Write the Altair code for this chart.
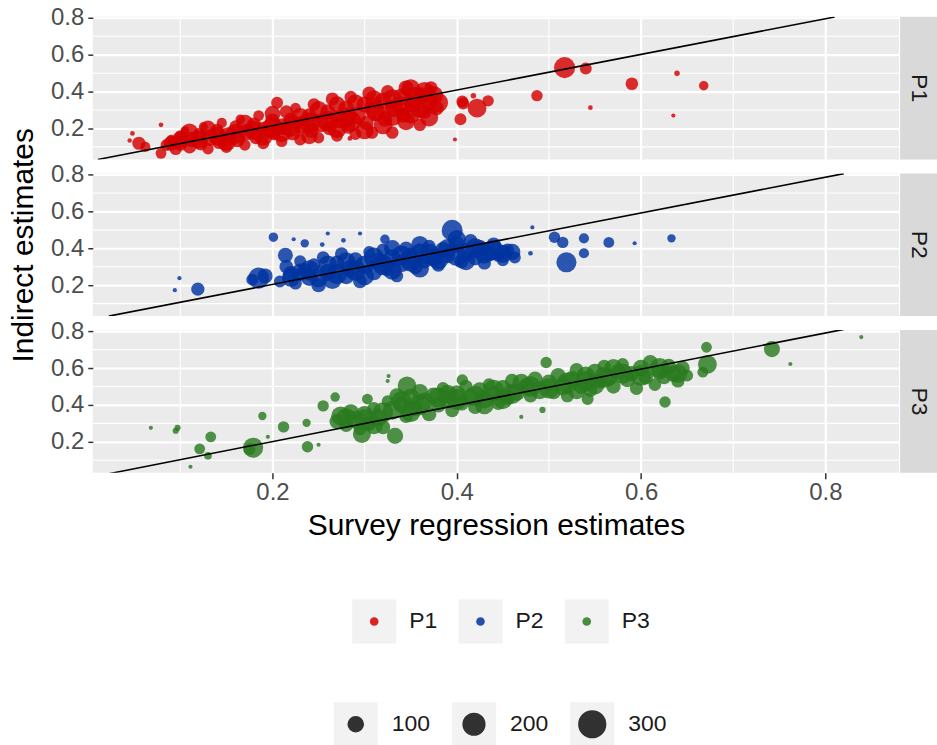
import altair as alt
import pandas as pd

FONT = "Liberation Sans"

panels = ["P1", "P2", "P3"]
colors = ["#D40000", "#0033A0", "#2A7A1E"]

# (survey regression estimate, indirect estimate, size value)
p1_points = [
    (0.048, 0.173, 4), (0.045, 0.135, 3), (0.055, 0.12, 62), (0.062, 0.10, 35), (0.079, 0.22, 4),
    (0.079, 0.065, 40), (0.085, 0.11, 50), (0.09, 0.14, 30),
    (0.095, 0.09, 56), (0.10, 0.16, 45), (0.10, 0.12, 82), (0.105, 0.19, 22), (0.11, 0.10, 62), (0.112, 0.14, 88),
    (0.12, 0.17, 50), (0.122, 0.12, 75), (0.125, 0.21, 27), (0.13, 0.09, 45), (0.132, 0.15, 100),
    (0.14, 0.19, 62), (0.142, 0.13, 82), (0.145, 0.23, 35), (0.15, 0.10, 50), (0.152, 0.16, 110),
    (0.16, 0.21, 56), (0.162, 0.14, 88), (0.165, 0.25, 30), (0.17, 0.11, 45), (0.172, 0.18, 100),
    (0.18, 0.22, 75), (0.182, 0.15, 62), (0.185, 0.27, 40), (0.19, 0.12, 50), (0.192, 0.19, 120),
    (0.20, 0.24, 82), (0.202, 0.17, 56), (0.205, 0.34, 50), (0.21, 0.13, 45), (0.212, 0.21, 110), (0.215, 0.29, 62),
    (0.22, 0.25, 68), (0.222, 0.18, 95), (0.225, 0.31, 40), (0.23, 0.14, 50), (0.232, 0.22, 120),
    (0.24, 0.27, 75), (0.242, 0.19, 82), (0.245, 0.33, 56), (0.25, 0.15, 45), (0.252, 0.23, 130),
    (0.26, 0.29, 82), (0.262, 0.20, 68), (0.265, 0.36, 62), (0.27, 0.16, 50), (0.272, 0.25, 120),
    (0.28, 0.31, 88), (0.282, 0.21, 75), (0.284, 0.146, 4), (0.285, 0.37, 56), (0.29, 0.17, 50), (0.292, 0.27, 110),
    (0.30, 0.33, 95), (0.302, 0.23, 75), (0.305, 0.39, 68), (0.308, 0.178, 56), (0.31, 0.255, 7), (0.312, 0.29, 130),
    (0.32, 0.35, 100), (0.322, 0.25, 82), (0.325, 0.40, 62), (0.33, 0.178, 56), (0.332, 0.31, 120),
    (0.34, 0.37, 110), (0.342, 0.27, 75), (0.345, 0.42, 82), (0.35, 0.416, 130), (0.352, 0.33, 100),
    (0.36, 0.22, 56), (0.362, 0.38, 95), (0.365, 0.29, 68), (0.37, 0.35, 120), (0.372, 0.42, 62), (0.378, 0.31, 75),
    (0.11, 0.18, 110), (0.13, 0.20, 90), (0.15, 0.13, 140), (0.17, 0.23, 100), (0.19, 0.16, 140),
    (0.20, 0.28, 90), (0.21, 0.18, 150), (0.23, 0.26, 130), (0.24, 0.16, 100), (0.25, 0.30, 120),
    (0.26, 0.24, 160), (0.27, 0.20, 140), (0.28, 0.26, 150), (0.29, 0.34, 100), (0.30, 0.19, 120),
    (0.31, 0.36, 110), (0.32, 0.22, 130), (0.33, 0.27, 160), (0.34, 0.32, 150), (0.345, 0.24, 120),
    (0.355, 0.37, 160), (0.36, 0.31, 150), (0.365, 0.40, 140), (0.37, 0.26, 120), (0.375, 0.38, 130),
    (0.38, 0.34, 140), (0.35, 0.28, 140), (0.33, 0.36, 140), (0.31, 0.31, 150), (0.27, 0.33, 100),
    (0.22, 0.21, 150), (0.18, 0.19, 140), (0.16, 0.17, 150), (0.14, 0.16, 130), (0.12, 0.14, 120),
    (0.10, 0.14, 100), (0.09, 0.12, 80), (0.20, 0.205, 160), (0.24, 0.23, 160), (0.285, 0.24, 160),
    (0.398, 0.14, 2), (0.404, 0.25, 50), (0.406, 0.346, 50), (0.407, 0.335, 50), (0.418, 0.378, 7),
    (0.422, 0.31, 130), (0.434, 0.35, 45),
    (0.487, 0.378, 45), (0.517, 0.53, 165), (0.54, 0.525, 50), (0.545, 0.313, 4), (0.59, 0.443, 56),
    (0.639, 0.50, 7), (0.635, 0.27, 2), (0.668, 0.432, 30),
]

p2_points = [
    (0.094, 0.173, 2), (0.099, 0.238, 2), (0.119, 0.178, 62), (0.185, 0.238, 165), (0.192, 0.25, 82),
    (0.178, 0.23, 50), (0.201, 0.46, 30), (0.223, 0.449, 2), (0.235, 0.427, 22), (0.254, 0.42, 4),
    (0.26, 0.48, 2), (0.277, 0.443, 4), (0.295, 0.48, 2), (0.322, 0.449, 30), (0.214, 0.362, 82), (0.208, 0.22, 50),
    (0.215, 0.30, 68), (0.22, 0.26, 95), (0.225, 0.21, 56), (0.23, 0.33, 50), (0.235, 0.28, 82),
    (0.24, 0.24, 100), (0.245, 0.31, 62), (0.25, 0.20, 75), (0.255, 0.35, 56), (0.26, 0.27, 110),
    (0.265, 0.23, 130), (0.27, 0.32, 82), (0.275, 0.37, 62), (0.28, 0.25, 100), (0.285, 0.29, 120),
    (0.29, 0.34, 75), (0.295, 0.22, 68), (0.30, 0.31, 130), (0.305, 0.38, 50), (0.31, 0.27, 95),
    (0.315, 0.33, 110), (0.32, 0.39, 62), (0.325, 0.29, 82), (0.33, 0.35, 100), (0.335, 0.25, 56),
    (0.34, 0.32, 120), (0.345, 0.40, 68), (0.35, 0.36, 95), (0.355, 0.30, 82), (0.36, 0.38, 110),
    (0.365, 0.33, 75), (0.37, 0.41, 62), (0.375, 0.35, 120), (0.38, 0.31, 68), (0.385, 0.39, 95),
    (0.39, 0.36, 82), (0.395, 0.497, 165), (0.40, 0.42, 100), (0.405, 0.33, 75), (0.41, 0.38, 120),
    (0.415, 0.44, 68), (0.42, 0.35, 88), (0.425, 0.40, 100), (0.43, 0.32, 62), (0.435, 0.37, 82),
    (0.44, 0.42, 75), (0.445, 0.36, 56), (0.45, 0.335, 50), (0.455, 0.39, 62), (0.463, 0.35, 50),
    (0.22, 0.24, 120), (0.24, 0.28, 150), (0.26, 0.31, 130), (0.27, 0.26, 150), (0.28, 0.33, 120),
    (0.29, 0.28, 160), (0.30, 0.25, 130), (0.31, 0.35, 150), (0.32, 0.31, 160), (0.33, 0.28, 130),
    (0.34, 0.36, 150), (0.35, 0.33, 160), (0.36, 0.29, 120), (0.37, 0.37, 160), (0.38, 0.34, 150),
    (0.39, 0.40, 130), (0.40, 0.36, 160), (0.41, 0.33, 120), (0.42, 0.40, 150), (0.43, 0.37, 140),
    (0.44, 0.39, 150), (0.45, 0.37, 120), (0.46, 0.38, 100), (0.25, 0.24, 130), (0.23, 0.27, 110),
    (0.36, 0.42, 110), (0.40, 0.45, 120), (0.33, 0.40, 100),
    (0.482, 0.513, 2), (0.48, 0.373, 4), (0.506, 0.46, 45), (0.515, 0.432, 45), (0.519, 0.324, 150),
    (0.538, 0.454, 35), (0.538, 0.373, 35), (0.565, 0.432, 40), (0.593, 0.427, 2), (0.633, 0.454, 22),
]

p3_points = [
    (0.068, 0.276, 2), (0.095, 0.26, 10), (0.097, 0.276, 10), (0.111, 0.065, 2), (0.121, 0.162, 40),
    (0.13, 0.124, 18), (0.133, 0.227, 40), (0.179, 0.168, 150), (0.175, 0.16, 50), (0.189, 0.34, 22),
    (0.195, 0.227, 2), (0.212, 0.281, 45), (0.237, 0.303, 22), (0.238, 0.173, 45), (0.25, 0.184, 2),
    (0.255, 0.395, 45), (0.268, 0.443, 30), (0.274, 0.34, 130), (0.297, 0.243, 120), (0.303, 0.432, 40),
    (0.325, 0.53, 2), (0.326, 0.557, 2), (0.333, 0.232, 95), (0.346, 0.503, 130), (0.406, 0.535, 45),
    (0.27, 0.31, 82), (0.28, 0.29, 68), (0.285, 0.36, 95), (0.29, 0.32, 120), (0.295, 0.27, 56),
    (0.30, 0.35, 100), (0.305, 0.30, 82), (0.31, 0.38, 62), (0.315, 0.33, 110), (0.32, 0.28, 75),
    (0.325, 0.42, 50), (0.33, 0.37, 130), (0.335, 0.45, 82), (0.34, 0.40, 100), (0.345, 0.34, 68),
    (0.35, 0.44, 120), (0.355, 0.38, 82), (0.36, 0.47, 95), (0.365, 0.42, 110), (0.37, 0.35, 75),
    (0.375, 0.45, 100), (0.38, 0.40, 82), (0.385, 0.49, 56), (0.39, 0.43, 120), (0.395, 0.37, 68),
    (0.40, 0.46, 110), (0.405, 0.41, 82), (0.41, 0.50, 62), (0.415, 0.44, 100), (0.42, 0.39, 75),
    (0.425, 0.48, 95), (0.43, 0.43, 120), (0.435, 0.51, 56), (0.44, 0.46, 82), (0.445, 0.41, 68),
    (0.45, 0.49, 100), (0.455, 0.44, 82), (0.46, 0.53, 75), (0.465, 0.47, 110), (0.47, 0.335, 2),
    (0.475, 0.50, 95), (0.48, 0.45, 68), (0.485, 0.54, 82), (0.49, 0.48, 120), (0.493, 0.373, 10),
    (0.497, 0.63, 45), (0.50, 0.52, 100), (0.505, 0.47, 75), (0.51, 0.56, 82), (0.515, 0.50, 110),
    (0.52, 0.45, 62), (0.525, 0.54, 95), (0.53, 0.59, 68), (0.535, 0.50, 82), (0.54, 0.56, 120),
    (0.542, 0.432, 50), (0.545, 0.48, 68), (0.55, 0.58, 95), (0.555, 0.53, 82), (0.56, 0.61, 62),
    (0.565, 0.55, 110), (0.57, 0.50, 75), (0.575, 0.58, 88), (0.58, 0.62, 56), (0.585, 0.54, 95),
    (0.59, 0.57, 82), (0.595, 0.49, 62), (0.60, 0.60, 100), (0.605, 0.55, 75), (0.61, 0.63, 82),
    (0.615, 0.51, 56), (0.62, 0.58, 95), (0.625, 0.55, 68), (0.626, 0.416, 45), (0.63, 0.61, 82),
    (0.635, 0.57, 100), (0.64, 0.53, 62), (0.645, 0.60, 75), (0.65, 0.56, 50),
    (0.28, 0.33, 140), (0.30, 0.32, 160), (0.32, 0.36, 150), (0.34, 0.42, 150), (0.36, 0.40, 160),
    (0.38, 0.44, 150), (0.40, 0.43, 160), (0.42, 0.45, 150), (0.44, 0.48, 160), (0.46, 0.46, 150),
    (0.48, 0.50, 160), (0.50, 0.49, 150), (0.52, 0.52, 160), (0.54, 0.53, 150), (0.56, 0.55, 160),
    (0.58, 0.57, 150), (0.60, 0.56, 160), (0.62, 0.60, 150), (0.64, 0.57, 130), (0.55, 0.51, 140),
    (0.45, 0.43, 140), (0.35, 0.36, 140), (0.31, 0.29, 120), (0.43, 0.40, 130), (0.57, 0.60, 120),
    (0.53, 0.48, 120), (0.47, 0.52, 120), (0.39, 0.46, 120),
    (0.671, 0.713, 40), (0.672, 0.62, 130), (0.667, 0.578, 40), (0.742, 0.703, 95), (0.762, 0.622, 2),
    (0.839, 0.768, 2),
]

# fitted reference line, visible end points per panel
line_x = [[0.0105, 0.81], [0.0224, 0.82], [0.0224, 0.82]]
line_y = [[0.032, 0.805], [0.032, 0.805], [0.027, 0.81]]

major_ticks = [0.2, 0.4, 0.6, 0.8]
minor_ticks = [0.1, 0.3, 0.5, 0.7]
size_breaks = [100, 200, 300]

X_DOMAIN = [0.005, 0.88]
Y_DOMAIN = [0.032, 0.806]
PW, PH, SW = 808, 143, 37
TITLE_W = 50
LEG_TOP = 539

COLOR_SCALE = alt.Scale(domain=panels, range=colors)
SIZE_SCALE = alt.Scale(domain=[0, 300], range=[12, 800])
XS = alt.Scale(domain=X_DOMAIN, nice=False, zero=False)
YS = alt.Scale(domain=Y_DOMAIN, nice=False, zero=False)


def axes(idx):
    bottom = idx == 2
    xkw = dict(values=major_ticks, grid=True, gridColor="white", gridWidth=2.2, domain=False, format=".1f")
    if bottom:
        xkw.update(labels=True, ticks=True, tickColor="#333333", tickSize=6, tickWidth=1.5,
                   labelFontSize=24, labelColor="#4D4D4D", labelPadding=2,
                   title="Survey regression estimates", titleFontSize=30,
                   titleFontWeight="normal", titleColor="black", titlePadding=6)
    else:
        xkw.update(labels=False, ticks=False, title="")
    ykw = dict(values=major_ticks, grid=True, gridColor="white", gridWidth=2.2, domain=False,
               ticks=True, tickColor="#333333", tickSize=5, tickWidth=1.5, format=".1f",
               labelFontSize=24, labelColor="#4D4D4D", labelPadding=4, title="")
    return alt.Axis(**xkw), alt.Axis(**ykw)


def make_panel(idx, pts):
    xa, ya = axes(idx)
    df = pd.DataFrame(pts, columns=["x", "y", "n"])
    df["panel"] = panels[idx]
    minor_df = pd.DataFrame({"v": minor_ticks})
    vgrid = alt.Chart(minor_df).mark_rule(color="white", strokeWidth=1.1).encode(
        x=alt.X("v:Q", scale=XS, axis=xa))
    hgrid = alt.Chart(minor_df).mark_rule(color="white", strokeWidth=1.1).encode(
        y=alt.Y("v:Q", scale=YS, axis=ya))
    pts_chart = alt.Chart(df).mark_circle(opacity=0.82).encode(
        x=alt.X("x:Q", scale=XS, axis=xa),
        y=alt.Y("y:Q", scale=YS, axis=ya),
        color=alt.Color("panel:N", scale=COLOR_SCALE, legend=None),
        size=alt.Size("n:Q", scale=SIZE_SCALE, legend=None),
    )
    ldf = pd.DataFrame({"x": line_x[idx], "y": line_y[idx]})
    line = alt.Chart(ldf).mark_line(color="black", strokeWidth=1.6, clip=True).encode(
        x=alt.X("x:Q", scale=XS, axis=xa), y=alt.Y("y:Q", scale=YS, axis=ya))
    panel = alt.layer(vgrid, hgrid, pts_chart, line).properties(
        width=PW, height=PH, view=alt.ViewBackground(fill="#EBEBEB", strokeWidth=0)
    )
    strip = alt.Chart(pd.DataFrame({"panel": [panels[idx]]})).mark_text(
        angle=90, fontSize=23, font=FONT, color="#1A1A1A", align="center", baseline="middle"
    ).encode(text="panel:N", x=alt.value(SW / 2), y=alt.value(PH / 2)).properties(
        width=SW, height=PH, view=alt.ViewBackground(fill="#D9D9D9", strokeWidth=0)
    )
    return alt.hconcat(panel, strip, spacing=0)


rows = [make_panel(i, p) for i, p in enumerate([p1_points, p2_points, p3_points])]
stack = alt.vconcat(*rows, spacing=2)

ytitle = alt.Chart(pd.DataFrame({"t": ["Indirect estimates"]})).mark_text(
    angle=270, fontSize=30, font=FONT, color="black", align="center", baseline="middle"
).encode(text="t:N", x=alt.value(24), y=alt.value(229)).properties(width=TITLE_W, height=400)

top = alt.hconcat(ytitle, stack, spacing=0)

# ---- legends (drawn as key boxes like ggplot) ----
LEG_H = 745 - LEG_TOP
ROW1, ROW2 = 620 - LEG_TOP, 723 - LEG_TOP
color_df = pd.DataFrame({"panel": panels})
size_df = pd.DataFrame({"label": [str(v) for v in size_breaks], "n": size_breaks})

c0 = 375 - 53.25
cx = alt.X("panel:N", axis=None,
           scale=alt.Scale(type="band", domain=panels, range=[c0, c0 + 319.5], paddingInner=0, paddingOuter=0))
s0 = 356.5 - 59.25
sx = alt.X("label:N", axis=None,
           scale=alt.Scale(type="band", domain=[str(v) for v in size_breaks], range=[s0, s0 + 355.5],
                           paddingInner=0, paddingOuter=0))

cbox = alt.Chart(color_df).mark_square(size=44 * 44, color="#F2F2F2", opacity=1).encode(x=cx, y=alt.value(ROW1))
cdot = alt.Chart(color_df).mark_circle(size=75, opacity=0.85).encode(
    x=cx, y=alt.value(ROW1), color=alt.Color("panel:N", scale=COLOR_SCALE, legend=None))
clab = alt.Chart(color_df).mark_text(align="left", dx=35, fontSize=23, font=FONT, color="#1A1A1A").encode(
    x=cx, y=alt.value(ROW1), text="panel:N")
sbox = alt.Chart(size_df).mark_square(size=44 * 44, color="#F2F2F2", opacity=1).encode(x=sx, y=alt.value(ROW2))
sdot = alt.Chart(size_df).mark_circle(color="black", opacity=0.8).encode(
    x=sx, y=alt.value(ROW2), size=alt.Size("n:Q", scale=SIZE_SCALE, legend=None))
slab = alt.Chart(size_df).mark_text(align="left", dx=36, fontSize=23, font=FONT, color="#1A1A1A").encode(
    x=sx, y=alt.value(ROW2), text="label:N")

legend = alt.layer(cbox, cdot, clab, sbox, sdot, slab).resolve_scale(x="independent").properties(
    width=900, height=LEG_H)

chart = alt.vconcat(top, legend, spacing=0).properties(
    padding={"left": 0, "top": 5, "right": 0, "bottom": 0}
).configure_view(strokeWidth=0).configure_axis(labelFont=FONT, titleFont=FONT).configure_text(font=FONT)

chart.save("out.html", embed_options={"renderer": "svg", "actions": False})
